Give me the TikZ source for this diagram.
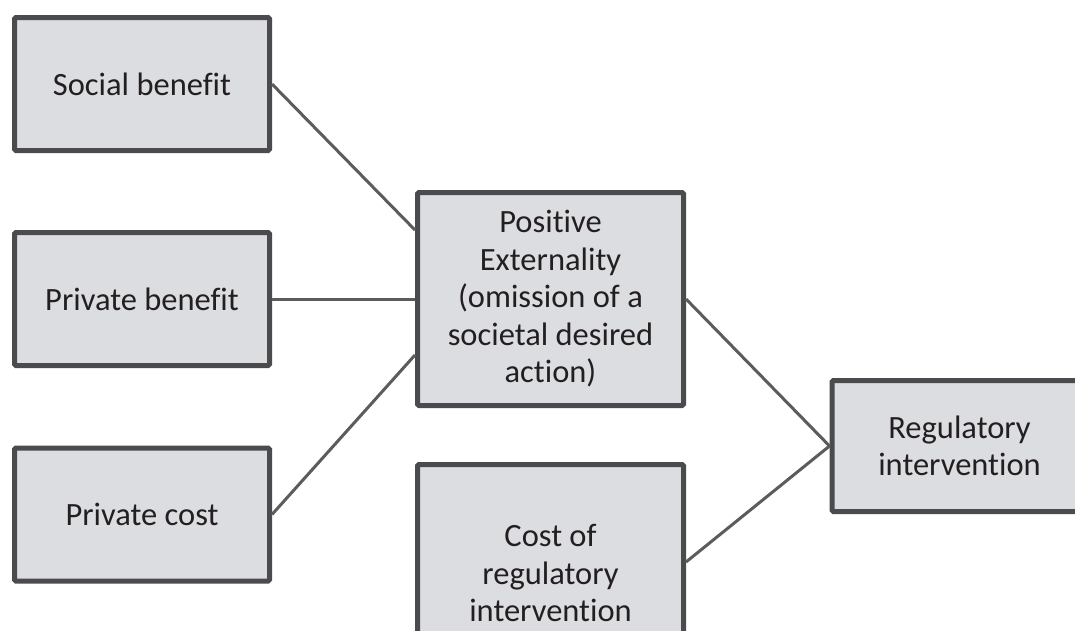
\documentclass[tikz,border=0pt]{standalone}
\usepackage{fontspec}
\setmainfont{Carlito}[Ligatures=NoCommon]
\usetikzlibrary{calc}
\definecolor{boxfill}{HTML}{DCDDE0}
\definecolor{boxdraw}{HTML}{4B4B4D}
\definecolor{linkcol}{HTML}{5C5C5E}
\definecolor{txt}{HTML}{231F20}
\begin{document}
\begin{tikzpicture}[x=1pt,y=-1pt,
  box/.style={draw=boxdraw,fill=boxfill,line width=5pt,rounded corners=1.5pt,
    align=center,inner sep=0pt,text=txt,
    font=\fontsize{32.5}{37.5}\selectfont},
  small/.style={box,minimum width=255pt,minimum height=133pt},
  link/.style={draw=linkcol,line width=3pt}]
\useasboundingbox (0,0) rectangle (1075,630);
\begin{scope}
\clip (0,0) rectangle (1075,630);
\node[small] (sb) at (142,84) {Social benefit};
\node[small] (pb) at (142,299) {Private benefit};
\node[small] (pc) at (142,514.5) {Private cost};
\node[box,minimum width=266pt,minimum height=213pt] (pe) at (550.5,299)
  {Positive\\Externality\\(omission of a\\societal desired\\action)};
\node[box,minimum width=266pt,minimum height=217pt] (co) at (550.5,573)
  {Cost of\\regulatory\\intervention};
\node[box,minimum width=255pt,minimum height=131pt] (ri) at (959.5,446)
  {Regulatory\\intervention};
\coordinate (pe1) at ([yshift=69pt]pe.west);
\coordinate (pe3) at ([yshift=-56pt]pe.west);
\coordinate (co1) at ([yshift=11pt]co.east);
\draw[link] (sb.east) -- (pe1);
\draw[link] (pb.east) -- (pe.west);
\draw[link] (pc.east) -- (pe3);
\draw[link] (pe.east) -- (ri.west);
\draw[link] (co1) -- (ri.west);
\end{scope}
\end{tikzpicture}
\end{document}
